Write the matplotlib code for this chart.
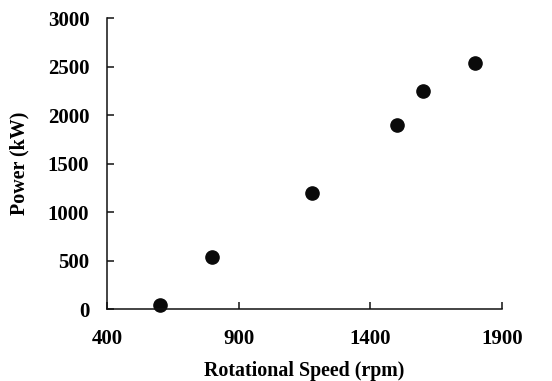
import matplotlib
matplotlib.use('Agg')
import matplotlib.pyplot as plt

speed = [600, 800, 1180, 1500, 1600, 1800]
power = [40, 540, 1200, 1900, 2250, 2540]
xticks = [400, 900, 1400, 1900]
yticks = [0, 500, 1000, 1500, 2000, 2500, 3000]

plt.rcParams['font.family'] = ['Liberation Serif', 'DejaVu Serif']
plt.rcParams['font.weight'] = 'bold'

fig = plt.figure(figsize=(5.52, 3.81), dpi=100)
ax = fig.add_axes([0.1944, 0.1882, 0.9089 - 0.1944, 0.952 - 0.1882])

ax.plot(speed, power, 'o', color='#0a0a0a', markersize=9.5, clip_on=False)

ax.set_xlim(400, 1900)
ax.set_ylim(0, 3000)
ax.set_xticks(xticks)
ax.set_yticks(yticks)

for s in ['top', 'right']:
    ax.spines[s].set_visible(False)
for s in ['left', 'bottom']:
    ax.spines[s].set_linewidth(1.1)
    ax.spines[s].set_color('#111111')

ax.tick_params(direction='in', length=5, width=1.1, labelsize=15, color='#111111')
ax.tick_params(axis='x', pad=14)
ax.tick_params(axis='y', pad=13)
for lab in ax.get_xticklabels() + ax.get_yticklabels():
    lab.set_fontweight('bold')

ax.set_xlabel('Rotational Speed (rpm)', fontsize=14.4, fontweight='bold', labelpad=9)
ax.set_ylabel('Power (kW)', fontsize=14.4, fontweight='bold', labelpad=13)

fig.savefig('out.png', dpi=100)
